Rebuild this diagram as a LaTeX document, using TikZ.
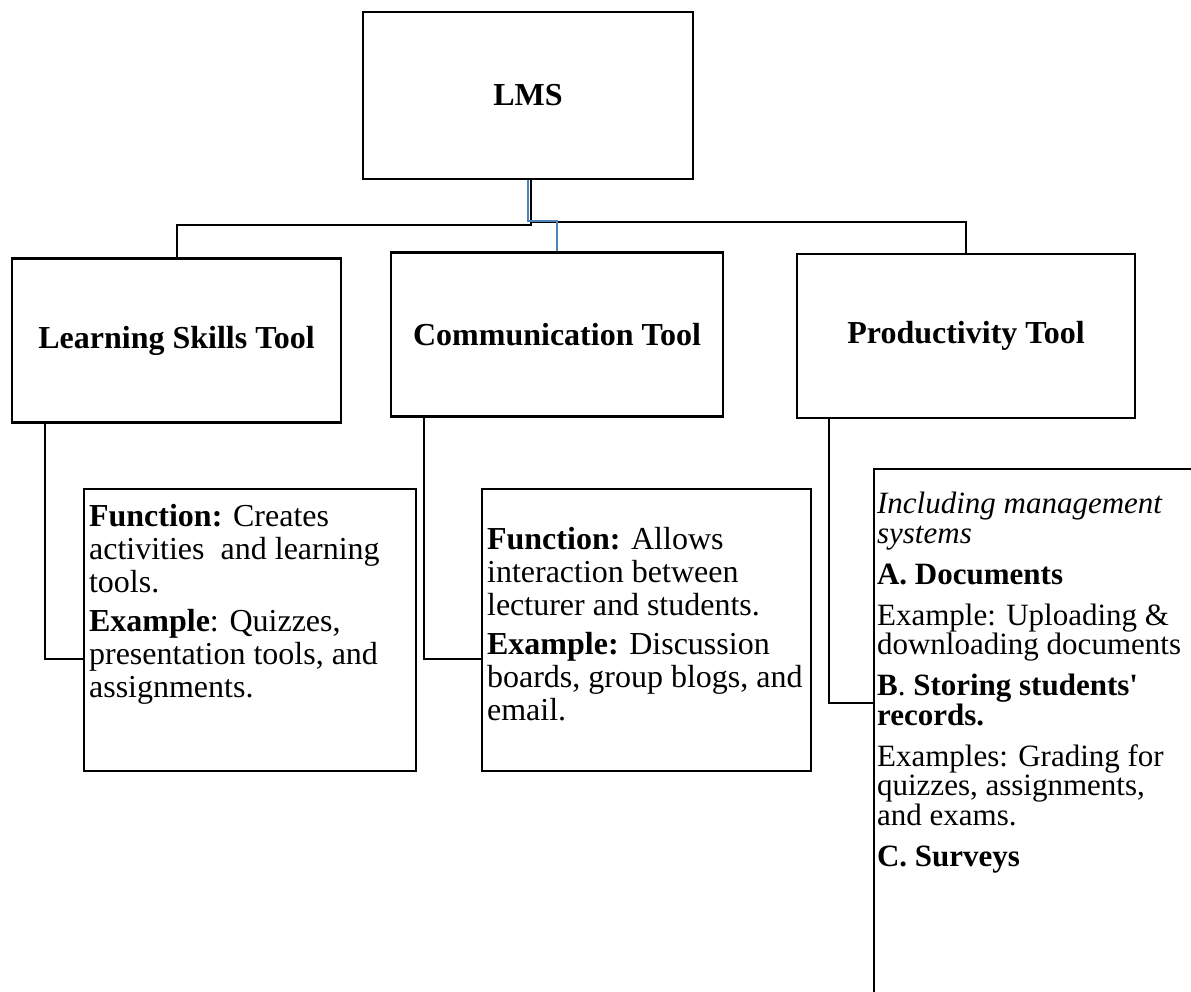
\documentclass[tikz,border=0pt]{standalone}
\usepackage{fontspec}
\setmainfont{Liberation Serif}
\usetikzlibrary{positioning}
\definecolor{linkblue}{RGB}{79,129,189}

\begin{document}
\begin{tikzpicture}[
x=1pt, y=-1pt,
every node/.style={font=\fontsize{32}{33}\selectfont},
toolbox/.style={draw, line width=2.2pt, minimum width=330pt, minimum height=164pt, inner sep=0pt, font=\fontsize{32}{33}\selectfont\bfseries},
infobox/.style={draw, line width=2.2pt, anchor=north west, inner xsep=5pt, inner ysep=0pt},
link/.style={line width=2pt}
]
\useasboundingbox (0,0) rectangle (1191,991);
\fill[white] (0,0) rectangle (1191,991);

\node[toolbox, minimum height=167pt] (lms) at (528,95.5) {LMS};
\node[toolbox, minimum width=329pt] (learn) at (176.5,340.5) {Learning Skills Tool};
\node[toolbox, minimum width=332pt] (comm) at (557,334.5) {Communication Tool};
\node[toolbox, minimum width=338pt] (prod) at (966,336) {Productivity Tool};

\node[infobox] (learnex) at (83,488) {\begin{minipage}[c][282pt][t]{322pt}\vspace*{15pt}%
\textbf{Function:} Creates\\ activities\ \ and learning\\ tools.\\[6pt]
\textbf{Example}: Quizzes,\\ presentation tools, and\\ assignments.\end{minipage}};
\node[infobox] (commex) at (481,488) {\begin{minipage}[c][282pt][t]{319pt}\vspace*{38pt}%
\textbf{Function:} Allows\\ interaction between\\ lecturer and students.\\[6pt]
\textbf{Example:} Discussion\\ boards, group blogs, and\\ email.\end{minipage}};
\node[infobox, inner xsep=3pt] (prodex) at (873,468) {\begin{minipage}[c][540pt][t]{340pt}%
\fontsize{31}{29.5}\selectfont\setlength{\lineskiplimit}{-20pt}\vspace*{23pt}%
\textit{Including management}\\ \textit{systems}\\[11.5pt]
\textbf{A. Documents}\\[11.5pt]
Example: Uploading \&\\ downloading documents\\[11.5pt]
\textbf{B}. \textbf{Storing students\textquotesingle}\\ \textbf{records.}\\[11.5pt]
Examples: Grading for\\ quizzes, assignments,\\ and exams.\\[11.5pt]
\textbf{C. Surveys}\end{minipage}};

\draw[link] ([xshift=3pt]lms.south) -- ++(0,45) -| (learn.north);
\draw[link] ([xshift=3pt]lms.south) ++(0,42) -| (prod.north);
\draw[link, linkblue] (lms.south) -- ++(0,41) -| (comm.north);
\draw[link] ([xshift=34pt]learn.south west) |- ([yshift=-29pt]learnex.west);
\draw[link] ([xshift=34pt]comm.south west) |- ([yshift=-29pt]commex.west);
\draw[link] ([xshift=33pt]prod.south west) |- ([yshift=36pt]prodex.west);
\end{tikzpicture}
\end{document}
